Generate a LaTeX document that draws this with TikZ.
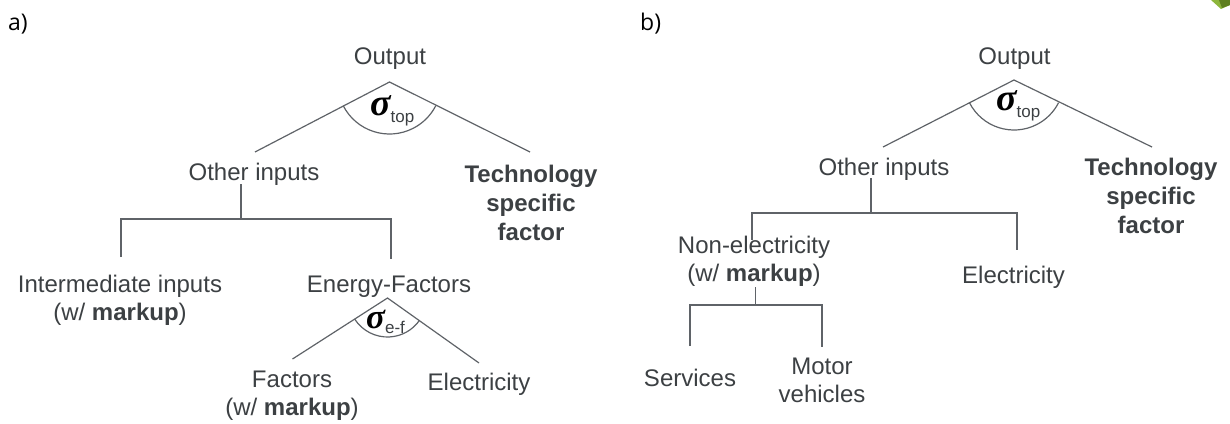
\documentclass[tikz,border=0pt]{standalone}
\usepackage{fontspec}
\setmainfont{Liberation Sans}
\newfontfamily\lblfont{Open Sans}
\newfontfamily\sigfont{Liberation Serif}
\usetikzlibrary{calc}
\definecolor{txt}{HTML}{3C4043}
\definecolor{ln}{HTML}{5F6368}
\definecolor{leafA}{HTML}{8DB63C}
\definecolor{leafB}{HTML}{5E7F1E}
\newcommand{\sigmark}[3]{{\sigfont\bfseries\itshape\fontsize{#1}{#1}\selectfont σ}\raisebox{-#3}{\fontsize{17}{17}\selectfont\color{txt}#2}}
\begin{document}
\begin{tikzpicture}[x=1pt,y=-1pt,
  lab/.style={font=\fontsize{24}{28}\selectfont, text=txt, inner sep=0pt, align=center, anchor=base},
  bld/.style={lab, font=\fontsize{24}{29}\selectfont\bfseries},
  panel/.style={font=\lblfont\fontsize{23}{23}\selectfont, text=black, inner sep=0pt, anchor=base west},
  edge/.style={draw=ln, line width=1.2pt},
  sig/.style={inner sep=0pt, anchor=base west, text=black},
]
\useasboundingbox (0,0) rectangle (1230,423);

% decorative corner
\fill[leafA] (1211,0) -- (1230,0) -- (1230,5) -- (1221,9) -- cycle;
\fill[leafB] (1219,0) -- (1230,0) -- (1230,5) -- (1222,8) -- cycle;

% ---------------- panel a ----------------
\node[panel] (pa) at (8,30) {a)};
\node[lab] (a-out) at (390,64) {Output};
\node[lab] (a-oi) at (254,180) {Other inputs};
\node[bld] (a-tech) at (531,240) {Technology\\specific\\factor};
\node[lab] (a-int) at (120,320) {Intermediate inputs\\(w/ \textbf{markup})};
\node[lab] (a-ef) at (389,292) {Energy-Factors};
\node[lab] (a-fac) at (292,415) {Factors\\(w/ \textbf{markup})};
\node[lab] (a-el) at (479,390) {Electricity};

\coordinate (aA) at (389.5,82);
\coordinate (aL) at (255,152);
\coordinate (aR) at (530,152);
\draw[edge] (aL) -- (aA) -- (aR);
\draw[edge] ($(aA)+(207:52pt)$) arc[start angle=207, end angle=333, radius=52pt];
\node[sig] (a-sig) at (370,115) {\sigmark{38}{top}{7pt}};

\coordinate (aJ1) at (241,184);
\coordinate (aJ) at (241,219);
\coordinate (aLT) at (121,219);
\coordinate (aLB) at (121,257);
\coordinate (aRT) at (391,219);
\coordinate (aRB) at (391,259);
\draw[edge] (aJ1) -- (aJ);
\draw[edge] (aLB) -- (aLT) -- (aRT) -- (aRB);

\coordinate (aA2) at (387.5,298);
\coordinate (aL2) at (292.5,359);
\coordinate (aR2) at (479,363);
\draw[edge] (aL2) -- (aA2) -- (aR2);
\draw[edge] ($(aA2)+(213:39pt)$) arc[start angle=213, end angle=325, radius=39pt];
\node[sig] (a-sig2) at (366,328) {\sigmark{35}{e-f}{5pt}};

% ---------------- panel b ----------------
\node[panel] (pb) at (640,30) {b)};
\node[lab] (b-out) at (1014.5,64) {Output};
\node[lab] (b-oi) at (884,175) {Other inputs};
\node[bld] (b-tech) at (1151,233) {Technology\\specific\\factor};
\node[lab] (b-ne) at (754,281) {Non-electricity\\(w/ \textbf{markup})};
\node[lab] (b-el) at (1013.5,283) {Electricity};
\node[lab] (b-serv) at (690,386) {Services};
\node[lab] (b-mv) at (822,402) {Motor\\vehicles};

\coordinate (bA) at (1014,80);
\coordinate (bL) at (883,147);
\coordinate (bR) at (1152,147);
\draw[edge] (bL) -- (bA) -- (bR);
\draw[edge] ($(bA)+(207:50pt)$) arc[start angle=207, end angle=333, radius=50pt];
\node[sig] (b-sig) at (996,110) {\sigmark{38}{top}{7pt}};

\coordinate (bJ1) at (871,178);
\coordinate (bJ) at (871,213);
\coordinate (bLT) at (752,213);
\coordinate (bLB) at (752,240);
\coordinate (bRT) at (1017,213);
\coordinate (bRB) at (1017,250);
\draw[edge] (bJ1) -- (bJ);
\draw[edge] (bLB) -- (bLT) -- (bRT) -- (bRB);

\coordinate (bJ2) at (755.5,287);
\coordinate (bJ3) at (755.5,305);
\coordinate (bLT2) at (690,305);
\coordinate (bLB2) at (690,346);
\coordinate (bRT2) at (822,305);
\coordinate (bRB2) at (822,347);
\draw[edge] (bJ2) -- (bJ3);
\draw[edge] (bLB2) -- (bLT2) -- (bRT2) -- (bRB2);
\end{tikzpicture}
\end{document}
